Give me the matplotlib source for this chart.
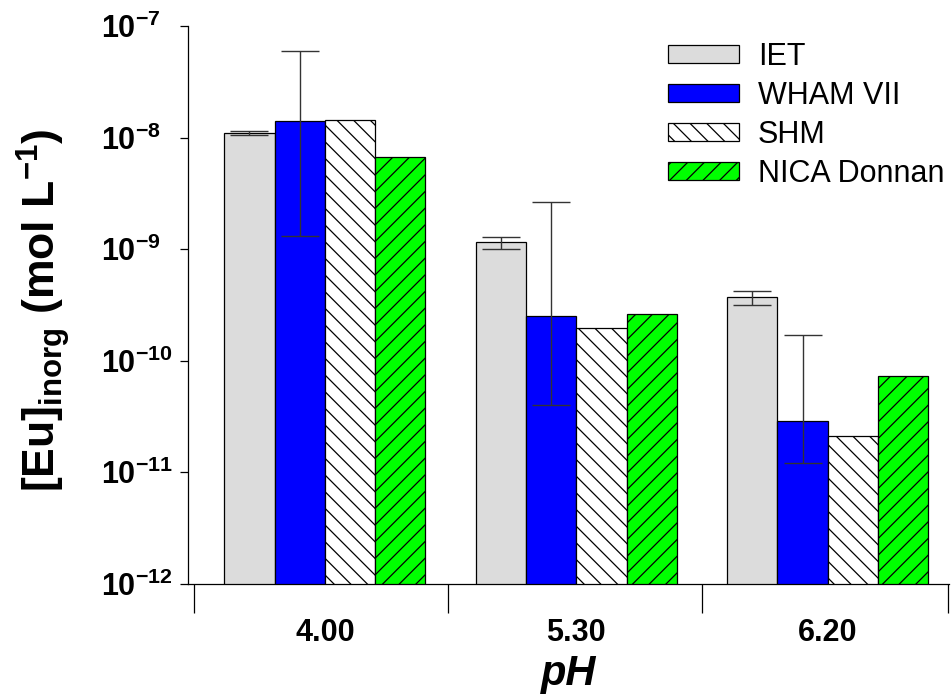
import matplotlib
matplotlib.use('Agg')
import matplotlib.pyplot as plt
import numpy as np
from matplotlib.ticker import NullLocator

plt.rcParams['font.family'] = ['Liberation Sans', 'DejaVu Sans']
plt.rcParams['mathtext.fontset'] = 'custom'
plt.rcParams['mathtext.rm'] = 'Liberation Sans'
plt.rcParams['mathtext.bf'] = 'Liberation Sans:bold'
plt.rcParams['mathtext.it'] = 'Liberation Sans:italic'
plt.rcParams['hatch.linewidth'] = 0.9
plt.rcParams['hatch.color'] = 'black'

# data
ph_labels = ['4.00', '5.30', '6.20']
iet = [1.09e-8, 1.16e-9, 3.69e-10]
iet_lo = [1.05e-8, 0.99e-9, 3.13e-10]
iet_hi = [1.14e-8, 1.28e-9, 4.2e-10]
wham = [1.42e-8, 2.51e-10, 2.88e-11]
wham_lo = [1.31e-9, 3.96e-11, 1.21e-11]
wham_hi = [5.97e-8, 2.64e-9, 1.70e-10]
shm = [1.44e-8, 1.95e-10, 2.1e-11]
nica = [6.73e-9, 2.6e-10, 7.26e-11]
ytick_vals = [1e-12, 1e-11, 1e-10, 1e-9, 1e-8, 1e-7]
ytick_labels = [r'$\mathbf{10^{-12}}$', r'$\mathbf{10^{-11}}$', r'$\mathbf{10^{-10}}$',
                r'$\mathbf{10^{-9}}$', r'$\mathbf{10^{-8}}$', r'$\mathbf{10^{-7}}$']

fig = plt.figure(figsize=(9.53, 6.97), dpi=100)
ax = fig.add_axes([0.1973, 0.1628, 0.7985, 0.7999])
ax.set_yscale('log')

x = np.arange(len(ph_labels))
w = 0.2
ekw = dict(ecolor='#333333', elinewidth=1.0, capsize=14, capthick=1.0)

def err(v, lo, hi):
    v = np.array(v); return [v - np.array(lo), np.array(hi) - v]

ax.bar(x - 1.5*w, iet, w, color='#dcdcdc', edgecolor='black', linewidth=0.9, label='IET',
       yerr=err(iet, iet_lo, iet_hi), error_kw=ekw)
ax.bar(x - 0.5*w, wham, w, color='#0000ff', edgecolor='black', linewidth=0.9, label='WHAM VII',
       yerr=err(wham, wham_lo, wham_hi), error_kw=ekw)
ax.bar(x + 0.5*w, shm, w, color='white', edgecolor='black', linewidth=0.9, hatch='\\\\', label='SHM')
ax.bar(x + 1.5*w, nica, w, color='#00ff00', edgecolor='black', linewidth=0.9, hatch='//', label='NICA Donnan')

ax.set_ylim(1e-12, 1e-7)
ax.set_xlim(-0.544, 2.482)
ax.spines['top'].set_visible(False)
ax.spines['right'].set_visible(False)
for s in ['left', 'bottom']:
    ax.spines[s].set_linewidth(0.9)

ax.set_yticks(ytick_vals)
ax.set_yticklabels(ytick_labels, fontsize=22)
ax.yaxis.set_minor_locator(NullLocator())
ax.tick_params(axis='y', which='major', direction='out', length=5.8, width=0.9, pad=57)
for lbl in ax.get_yticklabels():
    lbl.set_ha('left')

ax.set_xticks(x)
ax.set_xticklabels(ph_labels, fontsize=22, fontweight='bold')
ax.set_xticks([-0.52, 0.49, 1.5, 2.48], minor=True)
ax.tick_params(axis='x', which='major', length=0, pad=25)
ax.tick_params(axis='x', which='minor', direction='out', length=21, width=0.9)

ax.set_ylabel(r'[Eu]$_{\mathbf{inorg}}$ (mol L$^{\mathbf{-1}}$)', fontsize=32, fontweight='bold')
ax.yaxis.set_label_coords(-0.152, 0.49)
ax.set_xlabel('pH', fontsize=30, fontweight='bold', style='italic', va='top')
ax.xaxis.set_label_coords(0.5, -0.126)

ax.legend(loc='upper left', bbox_to_anchor=(668/953, 1 - 42/697), bbox_transform=fig.transFigure,
          frameon=False, fontsize=22, handlelength=2.32, handleheight=0.52,
          handletextpad=0.62, labelspacing=0.29, borderpad=0, borderaxespad=0)

fig.savefig('out.png', dpi=100)
